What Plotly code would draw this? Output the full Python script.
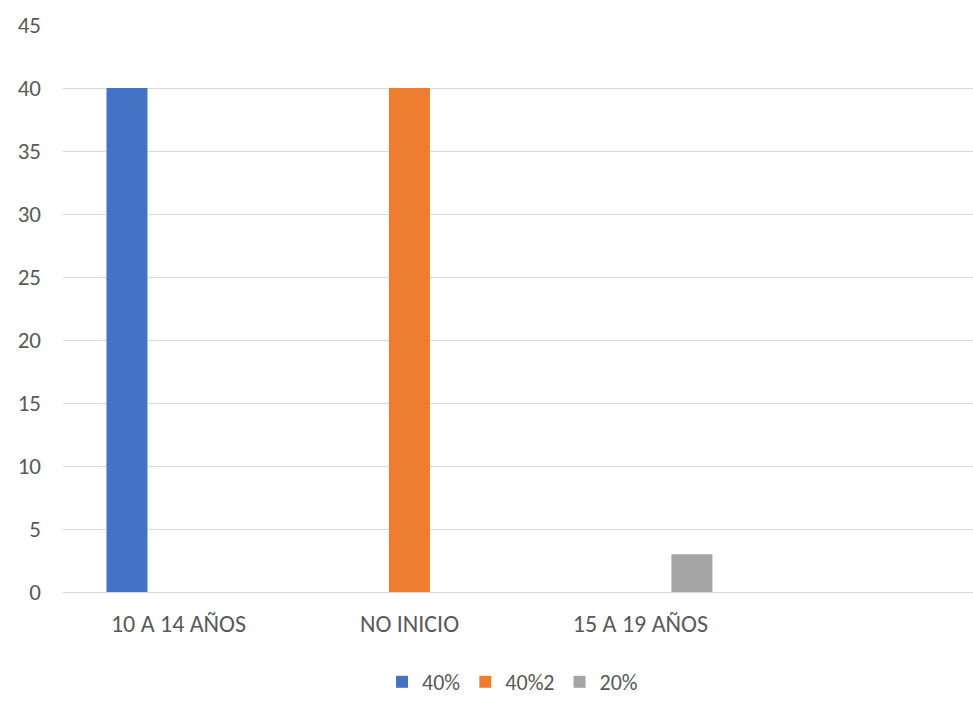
import plotly.graph_objects as go

categories = ["10 A 14 AÑOS", "NO INICIO", "15 A 19 AÑOS"]
series_names = ["40%", "40%2", "20%"]
series_values = [
    [40, None, None],
    [None, 40, None],
    [None, None, 3],
]
colors = ["#4472C4", "#ED7D31", "#A5A5A5"]
y_ticks = [0, 5, 10, 15, 20, 25, 30, 35, 40, 45]

font_family = "Carlito, Calibri, 'Open Sans', sans-serif"
text_color = "#595959"
grid_color = "#D9D9D9"

x_pos = list(range(len(categories)))

fig = go.Figure()
for name, vals, col in zip(series_names, series_values, colors):
    fig.add_trace(go.Bar(
        x=x_pos,
        y=vals,
        name=name,
        marker=dict(color=col, line=dict(width=0)),
        hoverinfo="skip",
    ))

fig.update_layout(
    width=973,
    height=703,
    margin=dict(l=63, r=0, t=25, b=111, autoexpand=False),
    plot_bgcolor="white",
    paper_bgcolor="white",
    barmode="group",
    bargap=0.331,
    bargroupgap=0.204,
    font=dict(family=font_family, size=24, color=text_color),
    showlegend=True,
    legend=dict(
        orientation="h",
        x=0.494,
        xanchor="center",
        yref="container",
        y=-0.006,
        yanchor="bottom",
        font=dict(size=22, color=text_color),
        itemwidth=30,
        traceorder="normal",
    ),
)

fig.update_xaxes(
    range=[-0.5, 3.44],
    tickvals=x_pos,
    ticktext=categories,
    showgrid=False,
    zeroline=False,
    showline=False,
    ticks="",
    ticklabelstandoff=15,
    tickfont=dict(size=24),
    fixedrange=True,
)

fig.update_yaxes(
    range=[0, 45],
    tickvals=y_ticks,
    showgrid=True,
    gridcolor=grid_color,
    gridwidth=1.3,
    zeroline=True,
    zerolinecolor=grid_color,
    zerolinewidth=1.3,
    showline=False,
    ticks="",
    ticklabelstandoff=21,
    tickfont=dict(size=23),
    fixedrange=True,
)

fig.write_html("out.html", config={"displayModeBar": False})
